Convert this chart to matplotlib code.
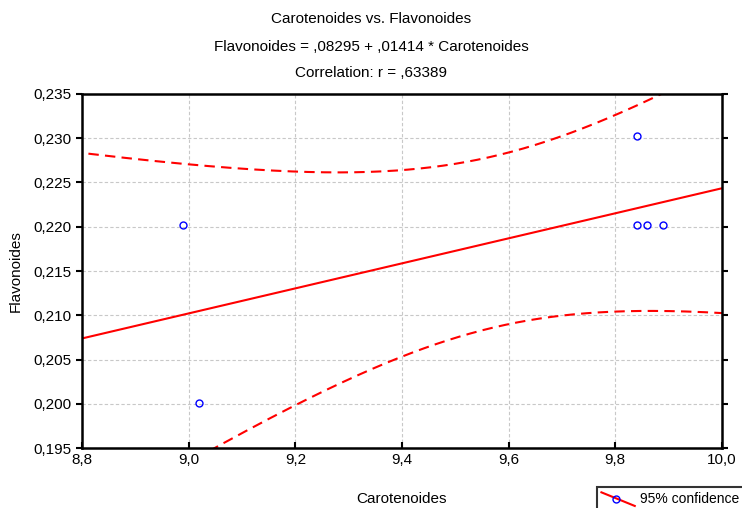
import numpy as np
import matplotlib
matplotlib.use("Agg")
import matplotlib.pyplot as plt
from matplotlib.ticker import FuncFormatter
from matplotlib.lines import Line2D
from matplotlib.legend_handler import HandlerBase

plt.rcParams['font.family'] = ['Liberation Sans', 'DejaVu Sans']

# data
carotenoides = np.array([8.99, 9.02, 9.84, 9.84, 9.86, 9.89])
flavonoides = np.array([0.2202, 0.2001, 0.2302, 0.2202, 0.2202, 0.2202])
intercept = 0.08295
slope = 0.01414
t_crit = 2.776  # t(0.975, df=4)

x_lim = (8.8, 10.0)
y_lim = (0.195, 0.235)
x_ticks = [8.8, 9.0, 9.2, 9.4, 9.6, 9.8, 10.0]
y_ticks = [0.195, 0.200, 0.205, 0.210, 0.215, 0.220, 0.225, 0.230, 0.235]

# regression line and 95% confidence band of the mean
n = len(carotenoides)
xm = carotenoides.mean()
sxx = ((carotenoides - xm) ** 2).sum()
resid = flavonoides - (intercept + slope * carotenoides)
s = np.sqrt((resid ** 2).sum() / (n - 2))
xs = np.linspace(8.75, 10.05, 300)
fit = intercept + slope * xs
hw = t_crit * s * np.sqrt(1.0 / n + (xs - xm) ** 2 / sxx)


class DiagHandler(HandlerBase):
    # statistica-style key: slanted red line with a blue circle on it
    def create_artists(self, legend, orig, xd, yd, width, height, fontsize, trans):
        line = Line2D([xd, xd + width], [yd + height * 1.1, yd - height * 0.3],
                      color='red', lw=1.5, transform=trans)
        dot = Line2D([xd + width * 0.45], [yd + height * 0.45], marker='o',
                     mfc='none', mec='blue', ms=5, ls='none', transform=trans)
        return [line, dot]


fig = plt.figure(figsize=(7.42, 5.08), dpi=100)
ax = fig.add_axes([0.1105, 0.118, 0.8625, 0.697])

ax.plot(xs, fit, color='red', lw=1.5)
ax.plot(xs, fit + hw, color='red', lw=1.5, ls=(0, (5, 3)))
ax.plot(xs, fit - hw, color='red', lw=1.5, ls=(0, (5, 3)))
ax.plot(carotenoides, flavonoides, 'o', mfc='none', mec='blue', ms=5, mew=1)

ax.set_xlim(*x_lim)
ax.set_ylim(*y_lim)
ax.set_xticks(x_ticks)
ax.set_yticks(y_ticks)
ax.xaxis.set_major_formatter(FuncFormatter(lambda v, p: f"{v:.1f}".replace('.', ',')))
ax.yaxis.set_major_formatter(FuncFormatter(lambda v, p: f"{v:.3f}".replace('.', ',')))
ax.tick_params(labelsize=11, length=4, width=1.5, direction='out', right=True)
ax.tick_params(axis='x', direction='in')
ax.grid(True, color='#c8c8c8', ls=(0, (3, 2)), lw=0.8)
for sp in ax.spines.values():
    sp.set_linewidth(1.8)

ax.set_xlabel("Carotenoides", fontsize=11, labelpad=18)
ax.set_ylabel("Flavonoides", fontsize=11, labelpad=8)

fig.text(0.5, 0.955, "Carotenoides vs. Flavonoides", ha='center', fontsize=11)
fig.text(0.5, 0.900, "Flavonoides = ,08295 + ,01414 * Carotenoides", ha='center', fontsize=11)
fig.text(0.5, 0.848, "Correlation: r = ,63389", ha='center', fontsize=11)

key = Line2D([], [], color='red')
leg = fig.legend([key], ["95% confidence"], loc='upper left', bbox_to_anchor=(0.804, 0.041),
                 frameon=True, fancybox=False, edgecolor='black', fontsize=10,
                 handlelength=2.4, borderpad=0.35, handletextpad=0.35, borderaxespad=0,
                 handler_map={Line2D: DiagHandler()})
leg.get_frame().set_linewidth(1.5)

fig.savefig("out.png", dpi=100)
